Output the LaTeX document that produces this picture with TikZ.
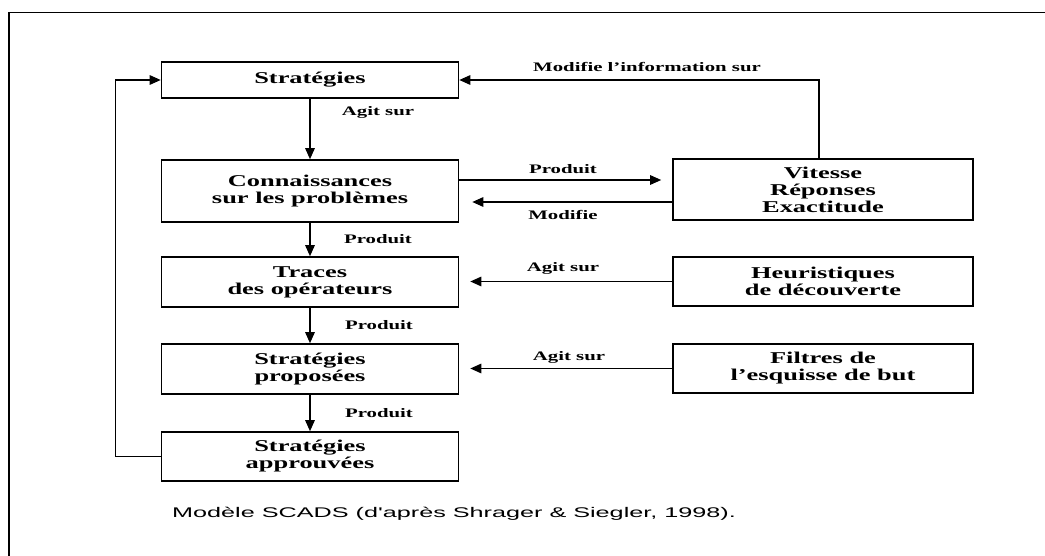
\documentclass[tikz,border=0pt]{standalone}
\usepackage{fontspec}
\usetikzlibrary{arrows.meta}
\newfontfamily\boxfont{Liberation Serif}[FakeStretch=1.6]
\newfontfamily\capfont{Liberation Sans}[FakeStretch=1.8]
\tikzset{
  box/.style={draw, line width=1.6pt, minimum width=297pt, inner sep=0pt, align=center,
    font={\boxfont\bfseries\fontsize{16.5}{17}\selectfont}},
  lbl/.style={inner sep=0pt, font={\boxfont\bfseries\fontsize{13}{14}\selectfont}},
  arr/.style={line width=1.3pt, -{Triangle[length=11pt,width=9.5pt]}},
  frameline/.style={line width=1.5pt},
}
\begin{document}
\begin{tikzpicture}[x=1pt,y=-1pt]
\useasboundingbox (0,0) rectangle (1045,556);
\coordinate (fb) at (9,556);
\coordinate (fc) at (9,12.5);
\coordinate (fr) at (1045,12.5);
\draw[frameline] (fb) -- (fc) -- (fr);

\node[box, minimum height=36pt] (S) at (310,80) {Stratégies};
\node[box, minimum height=62pt] (C) at (310,191) {Connaissances\\sur les problèmes};
\node[box, minimum height=50pt] (T) at (310,282) {Traces\\des opérateurs};
\node[box, minimum height=50pt] (P) at (310,369) {Stratégies\\proposées};
\node[box, minimum height=49pt] (A) at (310,456.5) {Stratégies\\approuvées};
\node[box, minimum width=300pt, minimum height=61pt] (V) at (823,189.5) {Vitesse\\Réponses\\Exactitude};
\node[box, minimum width=300pt, minimum height=49pt] (H) at (823,281.5) {Heuristiques\\de découverte};
\node[box, minimum width=300pt, minimum height=49pt] (F) at (823,368.5) {Filtres de\\l’esquisse de but};

\node[lbl] (l1) at (378,112) {Agit sur};
\node[lbl] (l2) at (378,239) {Produit};
\node[lbl] (l3) at (379,325) {Produit};
\node[lbl] (l4) at (379,413) {Produit};
\node[lbl] (l5) at (647,67) {Modifie l’information sur};
\node[lbl] (l6) at (563,169) {Produit};
\node[lbl] (l7) at (563,215) {Modifie};
\node[lbl] (l8) at (563,268) {Agit sur};
\node[lbl] (l9) at (569,357) {Agit sur};

\node[anchor=west, inner sep=0pt, font={\capfont\fontsize{14}{16}\selectfont}] (cap) at (172,514) {Modèle SCADS (d'après Shrager \& Siegler, 1998).};

\draw[arr] (S) -- (C);
\draw[arr] (C) -- (T);
\draw[arr] (T) -- (P);
\draw[arr] (P) -- (A);
\draw[arr] ([xshift=-4pt]V.north) |- (S.east);
\draw[arr, shorten >=11pt] ([yshift=11pt]C.east) -- ([yshift=11pt]C.east -| V.west);
\draw[arr, shorten >=13pt] ([yshift=-11pt]C.east -| V.west) -- ([yshift=-11pt]C.east);
\draw[arr, shorten >=11pt] (H.west) -- (H.west -| T.east);
\draw[arr, shorten >=11pt] (F.west) -- (F.west -| P.east);
\draw[arr] (A.west) -- ++(-45,0) |- (S.west);
\end{tikzpicture}
\end{document}
